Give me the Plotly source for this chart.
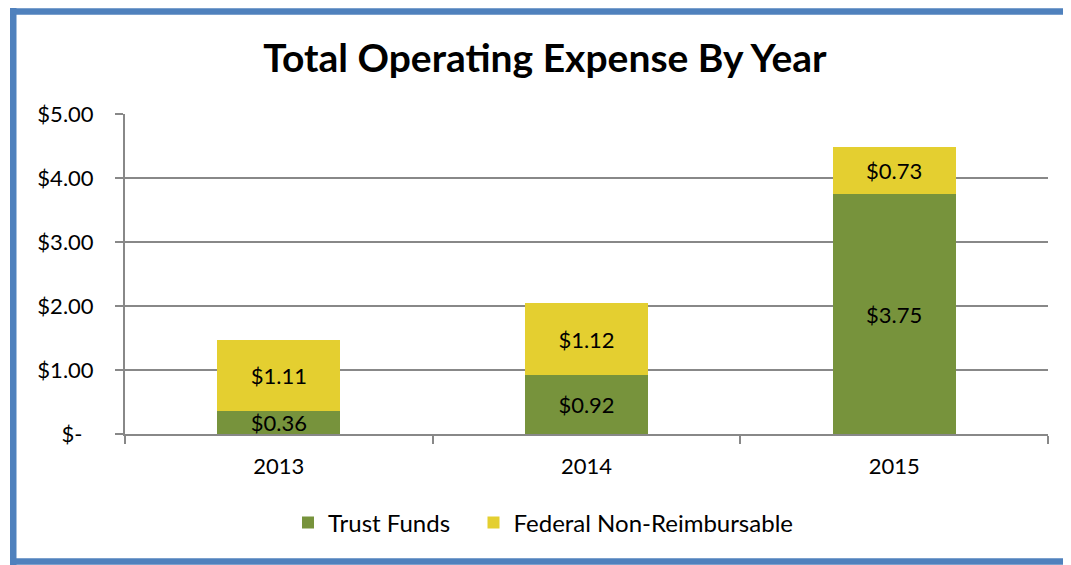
import plotly.graph_objects as go

years = ["2013", "2014", "2015"]
trust_funds = [0.36, 0.92, 3.75]
federal_non_reimb = [1.11, 1.12, 0.73]
y_tick_vals = [0, 1, 2, 3, 4, 5]
y_tick_text = ["$-\u00a0\u00a0", "$1.00", "$2.00", "$3.00", "$4.00", "$5.00"]

# the page puts the figure 8px in from the corner, so sizes are in figure pixels
OFF = 8
W, H = 1071 - OFF, 565 - OFF
L, R, T, B = 125 - OFF, 1048 - OFF, 114 - OFF, 434 - OFF   # plot area
BLUE = "#4F81BD"
FONT = "Lato, 'Open Sans', sans-serif"


def px(x):
    return (x - L) / (R - L)


def py(y):
    return (B - y) / (B - T)


fig = go.Figure()
fig.add_trace(go.Bar(
    x=years, y=trust_funds, name="Trust Funds\u00a0\u00a0\u00a0",
    marker=dict(color="#77933C", line=dict(width=0)),
    text=[f"${v:.2f}" for v in trust_funds],
    textposition="inside", insidetextanchor="middle", textangle=0,
    textfont=dict(color="black", size=22),
))
fig.add_trace(go.Bar(
    x=years, y=federal_non_reimb, name="Federal Non-Reimbursable",
    marker=dict(color="#E4CF30", line=dict(width=0)),
    text=[f"${v:.2f}" for v in federal_non_reimb],
    textposition="inside", insidetextanchor="middle", textangle=0,
    textfont=dict(color="black", size=22),
))

# blue frame: left, top and bottom sides (the right one is off the picture)
frame_lines = [
    (5.25, 0, 5.25, H, 6.5),             # left
    (2, 3.5, W + 20, 3.5, 6.5),          # top
    (2, 553.5, W + 20, 553.5, 6.5),      # bottom
]
for x0, y0, x1, y1, w in frame_lines:
    fig.add_shape(type="line", xref="paper", yref="paper",
                  x0=px(x0), y0=py(y0), x1=px(x1), y1=py(y1),
                  line=dict(color=BLUE, width=w), layer="above")

fig.update_layout(
    width=W, height=H,
    margin=dict(l=L, r=W - R, t=T, b=H - B),
    paper_bgcolor="white", plot_bgcolor="white",
    barmode="stack", bargap=0.6,
    font=dict(family=FONT, size=22, color="black"),
    title=dict(text="<b>Total Operating Expense By Year</b>",
               font=dict(size=39, color="black"),
               x=(545 - OFF) / W, xanchor="center", xref="container",
               y=1 - (58 - OFF) / H, yanchor="middle", yref="container"),
    uniformtext=dict(minsize=22, mode="show"),
    showlegend=True,
    legend=dict(orientation="h", xref="container", x=(543 - OFF) / W,
                xanchor="center", yref="container", y=1 - (523 - OFF) / H,
                yanchor="middle", font=dict(size=24), traceorder="normal"),
    xaxis=dict(showline=True, linecolor="#888888", linewidth=2,
               ticks="outside", tickson="boundaries", ticklen=8,
               tickcolor="#888888", tickwidth=2, showgrid=False,
               tickfont=dict(size=22), ticklabelstandoff=12),
    yaxis=dict(range=[0, 5], tickvals=y_tick_vals, ticktext=y_tick_text,
               showline=True, linecolor="#888888", linewidth=2,
               ticks="outside", ticklen=8, tickcolor="#888888", tickwidth=2,
               showgrid=True, gridcolor="#888888", gridwidth=1.5,
               zeroline=False, tickfont=dict(size=22),
               ticklabelstandoff=17),
)

fig.write_html("out.html")
